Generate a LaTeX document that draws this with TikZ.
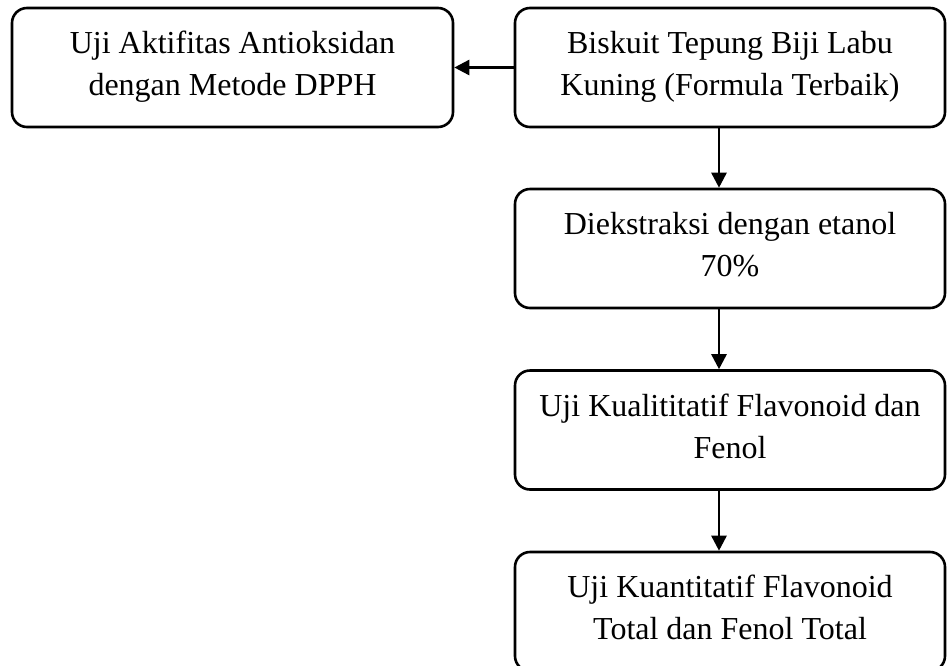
\documentclass[tikz,border=0pt]{standalone}
\usepackage{fontspec}
\setmainfont{Liberation Serif}
\usetikzlibrary{arrows.meta, positioning}

% fixed line height inside the boxes
\newcommand{\baris}{\rule[-14pt]{0pt}{42pt}}

\tikzset{
    proses/.style={draw, rounded corners=15pt, line width=2.6pt, minimum height=119pt,
        align=center, inner sep=0pt, font=\fontsize{32}{42}\selectfont},
    panah/.style={-{Triangle[length=15pt, width=15pt]}, line width=2.6pt}
}

\begin{document}
\begin{tikzpicture}[x=1pt, y=-1pt]
        \useasboundingbox (0,0) rectangle (948,665);
        % Left box
        \node[proses, minimum width=441pt] (dpph) at (232.5,67.5) {\baris Uji Aktifitas Antioksidan\\\baris dengan Metode DPPH};
        
        % Right column
        \node[proses, minimum width=430pt] (biskuit) at (730,67.5) {\baris Biskuit Tepung Biji Labu\\\baris Kuning (Formula Terbaik)};
        \node[proses, minimum width=430pt] (ekstrak) at (730,248.5) {\baris Diekstraksi dengan etanol\\\baris 70\%};
        \node[proses, minimum width=430pt] (kualitatif) at (730,430) {\baris Uji Kualititatif Flavonoid dan\\\baris Fenol};
        \node[proses, minimum width=430pt] (kuantitatif) at (730,611.5) {\baris Uji Kuantitatif Flavonoid\\\baris Total dan Fenol Total};
        
        % Arrows
        \draw[panah] (biskuit.west) -- (dpph.east);
        \draw[panah] ([xshift=-11pt]biskuit.south) -- ([xshift=-11pt]ekstrak.north);
        \draw[panah] ([xshift=-11pt]ekstrak.south) -- ([xshift=-11pt]kualitatif.north);
        \draw[panah] ([xshift=-11pt]kualitatif.south) -- ([xshift=-11pt]kuantitatif.north);
    \end{tikzpicture}
\end{document}
